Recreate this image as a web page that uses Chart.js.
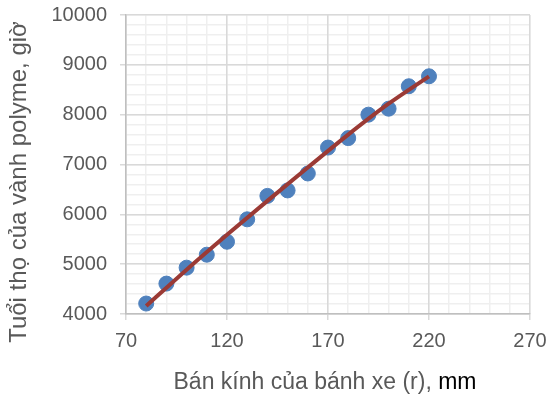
<!DOCTYPE html>
<html>
<head>
<meta charset="utf-8">
<script src="https://cdn.jsdelivr.net/npm/chart.js@4"></script>
<style>
  html, body { margin: 0; padding: 0; background: #fff; }
  #wrap { width: 547px; height: 402px; }
</style>
</head>
<body>
<div id="wrap"><canvas id="chart" width="547" height="402"></canvas></div>
<script>
// Dữ liệu
const radius = [80, 90, 100, 110, 120, 130, 140, 150, 160, 170, 180, 190, 200, 210, 220];
const lifeHours = [4210, 4610, 4930, 5190, 5450, 5900, 6370, 6480, 6820, 7340, 7530, 8000, 8120, 8570, 8770];

// Đường xu hướng
const trendX = [80, 100, 120, 140, 160, 180, 200, 220];
const trendY = [4160, 4890, 5590, 6270, 6940, 7600, 8220, 8770];

const xTitle = 'Bán kính của bánh xe (r),';
const xTitleUnit = ' mm';
const yTitle = 'Tuổi thọ của vành polyme, giờ';

const FONT = "'Liberation Sans', sans-serif";
const GRAY = '#595959';

// Vẽ tiêu đề trục bằng tay (phần "mm" màu đen)
const titlesPlugin = {
    id: 'titles',
    afterDraw(chart) {
        const ctx = chart.ctx;
        const area = chart.chartArea;
        ctx.save();
        ctx.font = '23px ' + FONT;
        ctx.textBaseline = 'middle';
        const w1 = ctx.measureText(xTitle).width;
        const w2 = ctx.measureText(xTitleUnit).width;
        let x0 = (area.left + area.right) / 2 - (w1 + w2) / 2 - 3;
        ctx.textAlign = 'left';
        ctx.fillStyle = GRAY;
        ctx.fillText(xTitle, x0, 383);
        ctx.fillStyle = '#000';
        ctx.fillText(xTitleUnit, x0 + w1, 383);

        ctx.font = '24px ' + FONT;
        ctx.translate(19, 182);
        ctx.rotate(-Math.PI / 2);
        ctx.textAlign = 'center';
        ctx.fillStyle = GRAY;
        ctx.fillText(yTitle, 0, 0);
        ctx.restore();
    }
};

new Chart(document.getElementById('chart'), {
    type: 'scatter',
    data: {
        datasets: [
            {
                label: 'trend',
                type: 'line',
                data: trendX.map((x, i) => ({ x, y: trendY[i] })),
                borderColor: '#9b3a35',
                borderWidth: 4,
                pointRadius: 0,
                cubicInterpolationMode: 'monotone',
                fill: false,
                order: 1
            },
            {
                label: 'data',
                data: radius.map((x, i) => ({ x, y: lifeHours[i] })),
                backgroundColor: '#4f81bd',
                borderColor: '#4f81bd',
                pointRadius: 7.5,
                order: 2
            }
        ]
    },
    options: {
        responsive: false,
        animation: false,
        layout: { padding: { left: 0, top: 15, right: 17, bottom: 0 } },
        plugins: { legend: { display: false }, tooltip: { enabled: false } },
        scales: {
            xMinor: {
                type: 'linear', position: 'bottom', min: 70, max: 270,
                ticks: { display: false, stepSize: 10 },
                grid: { color: '#efefef', lineWidth: 1.5, drawTicks: false },
                border: { display: false },
                afterFit: s => { s.height = 0; s.paddingLeft = 0; s.paddingRight = 0; }
            },
            yMinor: {
                type: 'linear', position: 'left', min: 4000, max: 10000,
                ticks: { display: false, stepSize: 200 },
                grid: { color: '#efefef', lineWidth: 1.5, drawTicks: false },
                border: { display: false },
                afterFit: s => { s.width = 0; s.paddingTop = 0; s.paddingBottom = 0; }
            },
            x: {
                type: 'linear', position: 'bottom', min: 70, max: 270,
                ticks: { stepSize: 50, color: GRAY, font: { family: FONT, size: 20 }, padding: 9 },
                grid: { color: '#d9d9d9', lineWidth: 1.5, tickLength: 6 },
                border: { color: '#bfbfbf', width: 1.5 },
                afterFit: s => { s.height = 88; s.paddingLeft = 0; s.paddingRight = 0; }
            },
            y: {
                type: 'linear', position: 'left', min: 4000, max: 10000,
                ticks: { stepSize: 1000, color: GRAY, font: { family: FONT, size: 20 }, padding: 13,
                         callback: v => String(v) },
                grid: { color: '#d9d9d9', lineWidth: 1.5, tickLength: 6 },
                border: { color: '#bfbfbf', width: 1.5 },
                afterFit: s => { s.width = 126; s.paddingTop = 0; s.paddingBottom = 0; }
            }
        }
    },
    plugins: [titlesPlugin]
});
</script>
</body>
</html>
